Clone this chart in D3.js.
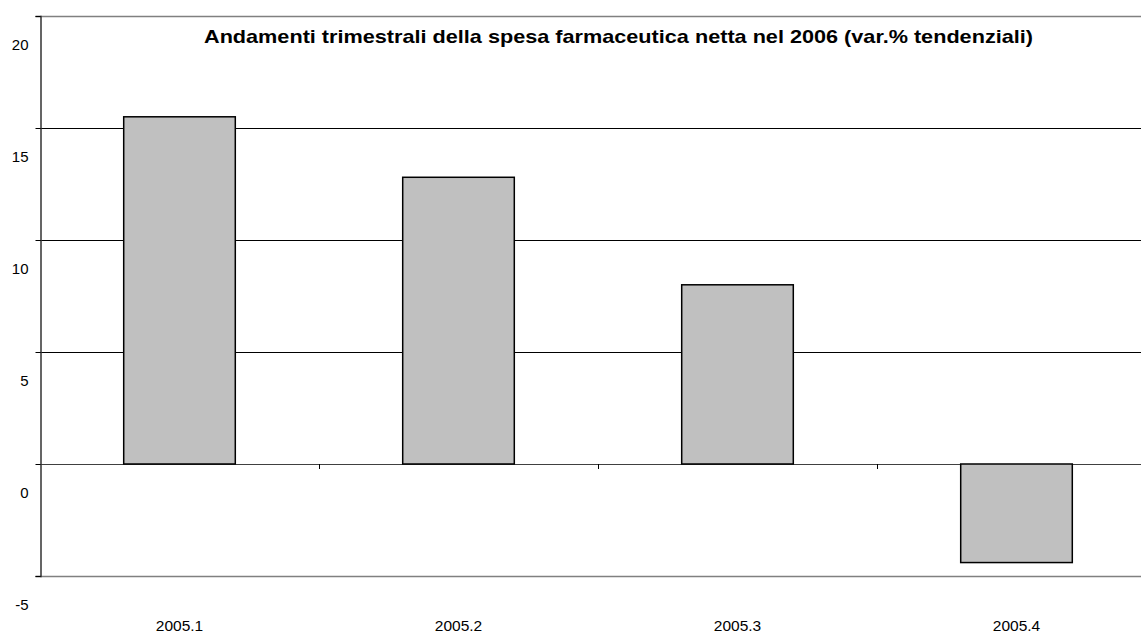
<!DOCTYPE html>
<html>
<head>
<meta charset="utf-8">
<script src="https://cdn.jsdelivr.net/npm/d3@7/dist/d3.min.js"></script>
<style>
  html, body { margin: 0; padding: 0; background: #fff; }
  svg { display: block; font-family: "Liberation Sans", Arial, sans-serif; }
</style>
</head>
<body>
<svg id="chart" width="1141" height="635"></svg>
<script>
// Quarterly net pharmaceutical spending, year-on-year % change
const categories = ["2005.1", "2005.2", "2005.3", "2005.4"];
const values = [15.5, 12.8, 8.0, -4.4];
const yTicks = [-5, 0, 5, 10, 15, 20];
const title = "Andamenti trimestrali della spesa farmaceutica netta nel 2006 (var.% tendenziali)";

const svg = d3.select("#chart");
const plot = { left: 40, right: 1156, top: 16, bottom: 576 };

const x = d3.scaleBand()
  .domain(categories)
  .range([plot.left, plot.right])
  .paddingInner(0.6)
  .paddingOuter(0.3);

const y = d3.scaleLinear()
  .domain([-5, 20])
  .range([plot.bottom, plot.top]);

// Horizontal gridlines
svg.append("g")
  .selectAll("line")
  .data(yTicks)
  .join("line")
  .attr("x1", plot.left)
  .attr("x2", plot.right)
  .attr("y1", d => Math.round(y(d)) + 0.5)
  .attr("y2", d => Math.round(y(d)) + 0.5)
  .attr("stroke", d => (d === 20 || d === -5) ? "#808080" : (d === 0 ? "#404040" : "#000"))
  .attr("stroke-width", d => (d === 20 || d === -5) ? 1.6 : 1);

// Bars
svg.append("g")
  .selectAll("rect")
  .data(values)
  .join("rect")
  .attr("x", (d, i) => x(categories[i]))
  .attr("width", x.bandwidth())
  .attr("y", d => y(Math.max(0, d)))
  .attr("height", d => Math.abs(y(d) - y(0)))
  .attr("fill", "#c0c0c0")
  .attr("stroke", "#000")
  .attr("stroke-width", 1.5);

// Category tick marks along the zero line, between bands
const gap = (x.step() - x.bandwidth()) / 2;
svg.append("g")
  .selectAll("line")
  .data(categories.slice(1))
  .join("line")
  .attr("x1", d => Math.round(x(d) - gap) + 0.5)
  .attr("x2", d => Math.round(x(d) - gap) + 0.5)
  .attr("y1", y(0))
  .attr("y2", y(0) + 5)
  .attr("stroke", "#000");

// Value axis
const yAxis = d3.axisLeft(y)
  .tickValues(yTicks)
  .tickSize(5)
  .tickFormat(d => String(d));

const gy = svg.append("g")
  .attr("transform", `translate(${plot.left + 0.5},0)`)
  .call(yAxis);
gy.select(".domain").attr("stroke", "#333").attr("stroke-width", 1.5);
gy.selectAll(".tick line").attr("stroke", "#000");
gy.selectAll(".tick text")
  .attr("x", -12)
  .attr("dy", "2.2em")
  .attr("fill", "#000")
  .style("font-size", "15px")
  .style("font-family", "Liberation Sans, Arial, sans-serif");

// Category labels
svg.append("g")
  .selectAll("text")
  .data(categories)
  .join("text")
  .attr("x", d => x(d) + x.bandwidth() / 2)
  .attr("y", 631)
  .attr("text-anchor", "middle")
  .style("font-size", "15.5px")
  .text(d => d);

// Title
svg.append("text")
  .attr("x", 618.5)
  .attr("y", 43)
  .attr("text-anchor", "middle")
  .attr("textLength", 829)
  .attr("lengthAdjust", "spacingAndGlyphs")
  .style("font-size", "19px")
  .style("font-weight", "bold")
  .text(title);
</script>
</body>
</html>
